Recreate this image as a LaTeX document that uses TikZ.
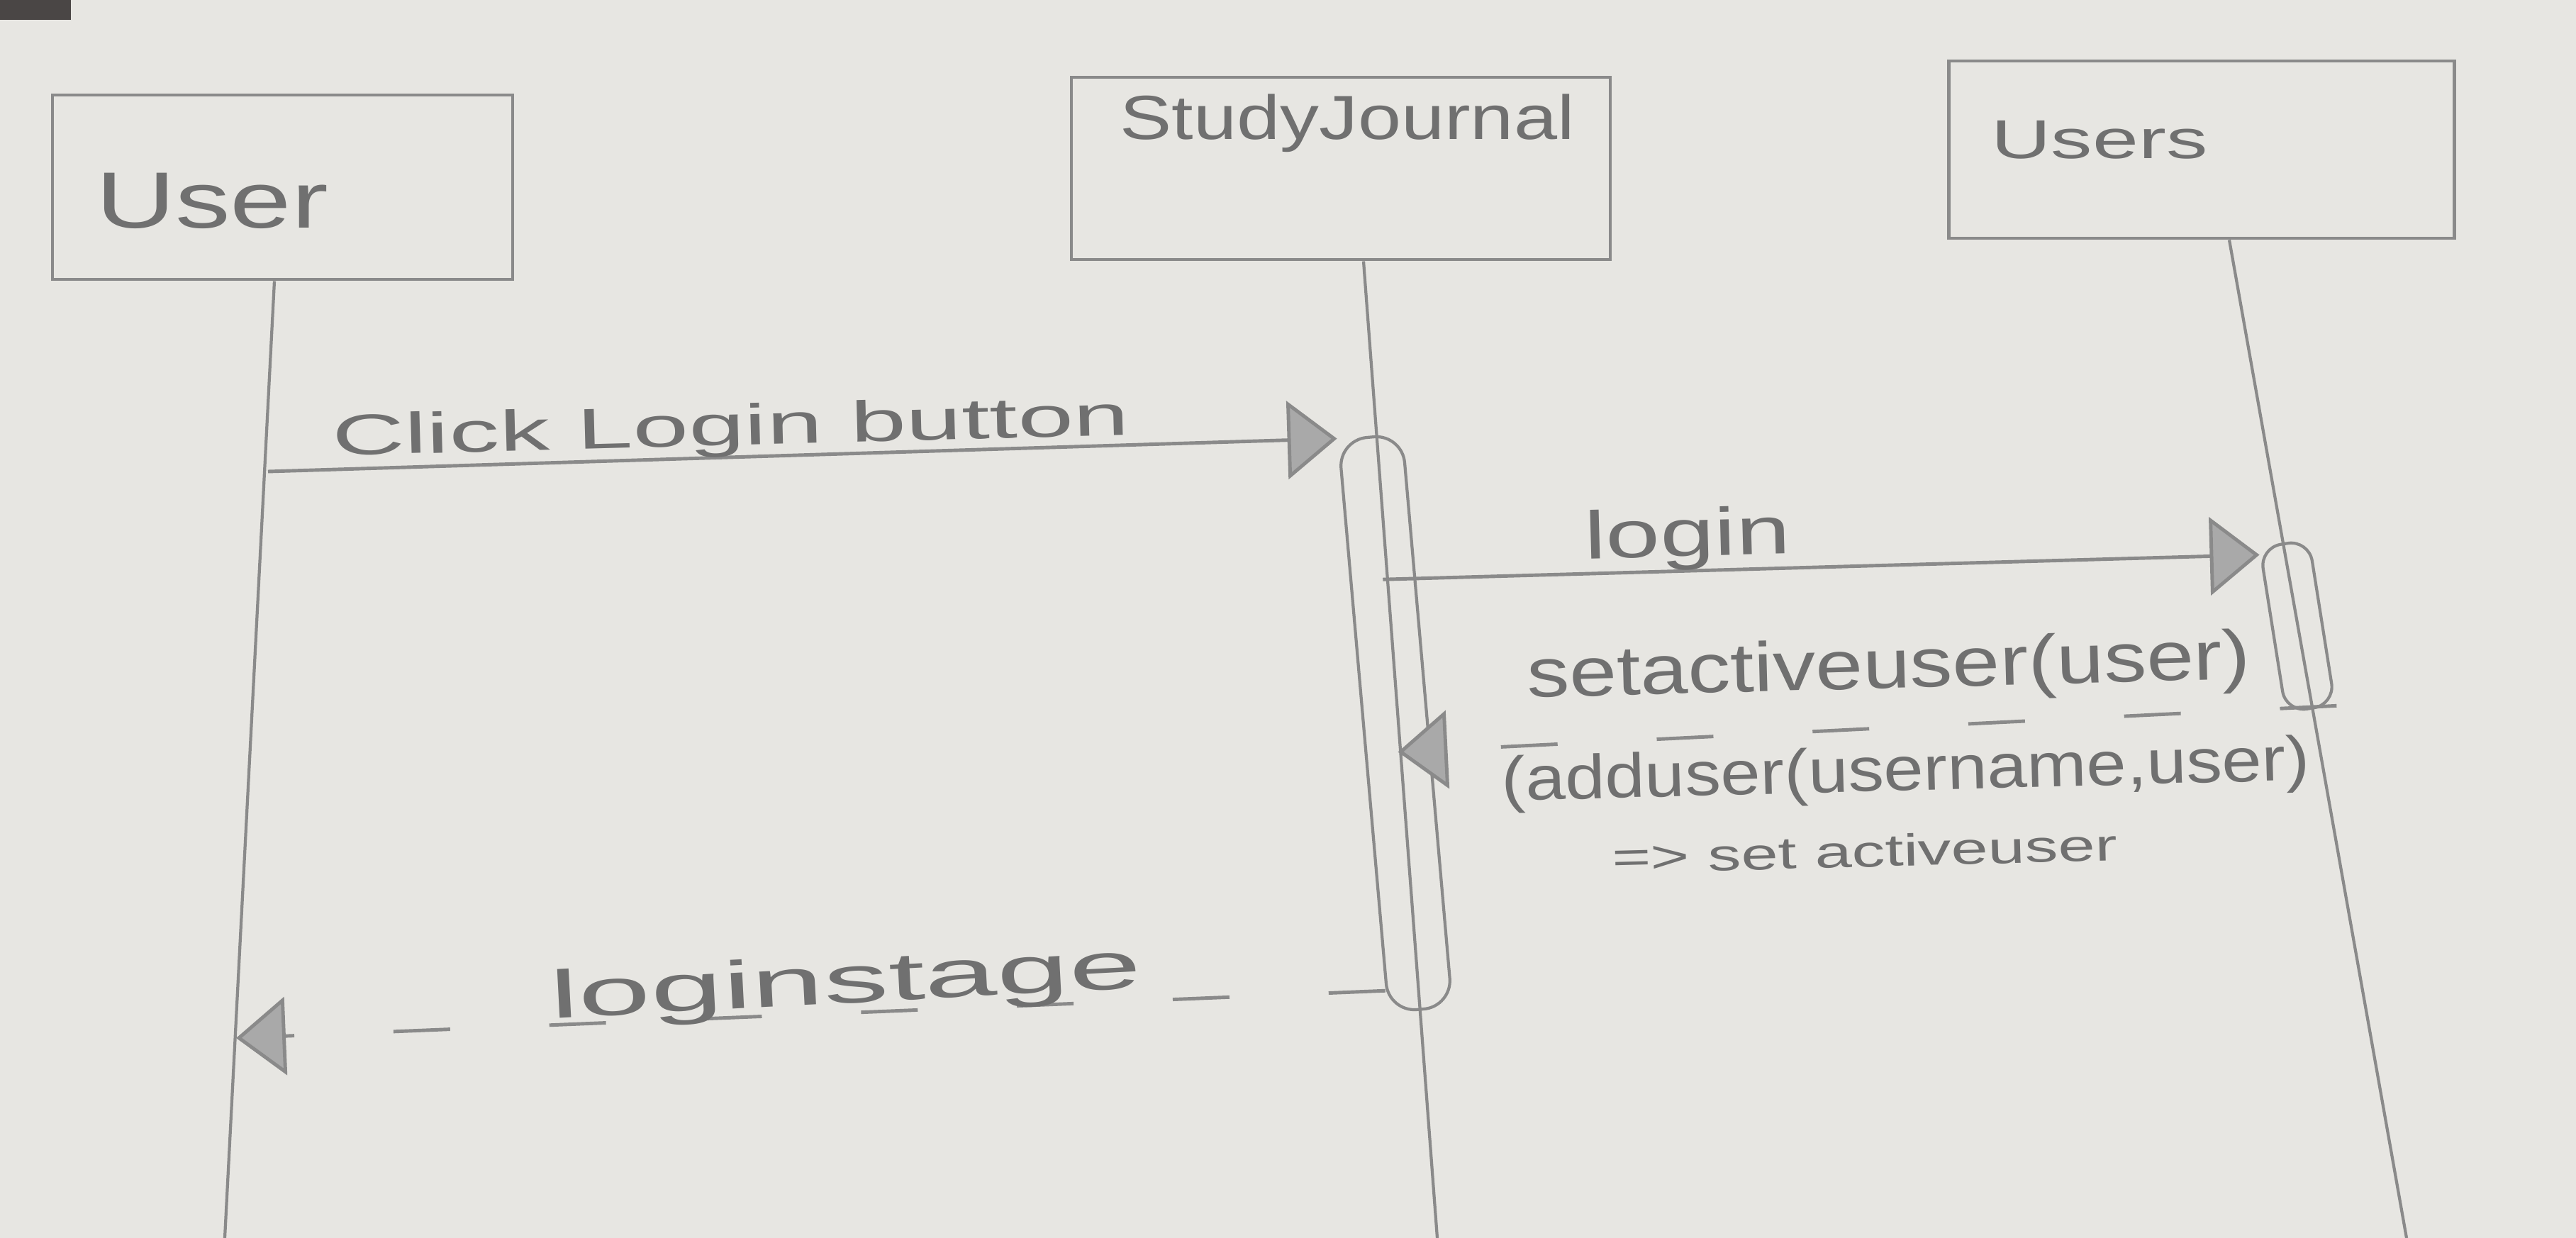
\documentclass[tikz,border=0pt]{standalone}
\usepackage{fontspec}
\setmainfont{Liberation Sans}
\usepackage{graphicx}
\usetikzlibrary{arrows.meta,calc}

\definecolor{paper}{HTML}{E7E6E2}
\definecolor{pencil}{HTML}{8A8A8A}
\definecolor{ink}{HTML}{707070}
\definecolor{shade}{HTML}{A9A9A9}
\definecolor{tape}{HTML}{4A4645}

% stretch text sideways, like the handwriting
\newcommand{\handw}[2]{\scalebox{#1}[1]{#2}}

\begin{document}
\begin{tikzpicture}[
    x=1cm,y=1cm,
    every node/.style={text=ink, inner sep=0pt},
    actor/.style={draw=pencil, line width=1.4pt},
    lifeline/.style={draw=pencil, line width=1.2pt},
    actbar/.style={draw=pencil, line width=1.2pt, rounded corners=4mm},
    call/.style={draw=pencil, line width=1.4pt,
      -{Triangle[length=7mm,width=11mm,fill=shade]}},
    reply/.style={call, dash pattern=on 8mm off 14mm}
]

% paper
\useasboundingbox (0,0) rectangle (36.33,-17.46);
\fill[paper] (0,0) rectangle (36.33,-17.46);
\fill[tape] (0,0) rectangle (1.0,-0.28);

% actors
\node[actor, minimum width=6.49cm, minimum height=2.6cm] (userbox) at (3.985,-2.64) {};
\node[font=\fontsize{32}{38}\selectfont] (usertxt) at (2.99,-2.83) {\handw{1.38}{User}};

\node[actor, minimum width=7.6cm, minimum height=2.57cm] (sjbox) at (18.91,-2.375) {};
\node[font=\fontsize{25}{30}\selectfont] (sjtxt) at (19.0,-1.74) {\handw{1.25}{StudyJournal}};

\node[actor, minimum width=7.13cm, minimum height=2.5cm] (usersbox) at (31.05,-2.11) {};
\node[font=\fontsize{22}{26}\selectfont] (userstxt) at (29.61,-1.97) {\handw{1.51}{Users}};

% lifelines
\coordinate (userend) at (3.17,-17.46);
\coordinate (sjend) at (20.27,-17.46);
\coordinate (usersend) at (33.94,-17.46);
\draw[lifeline] ([xshift=-1.15mm]userbox.south) -- (userend);
\draw[lifeline] ([xshift=3.2mm]sjbox.south) -- (sjend);
\draw[lifeline] ([xshift=3.9mm]usersbox.south) -- (usersend);

% activations
\node[actbar, minimum width=0.9cm, minimum height=8.1cm, rotate=5] (sjact) at (19.68,-10.2) {};
\node[actbar, minimum width=0.7cm, minimum height=2.35cm, rotate=9, rounded corners=3mm] (usersact) at (32.40,-8.83) {};

% messages
\coordinate (clickstart) at (3.78,-6.65);
\coordinate (stageend) at (3.33,-14.64);

\draw[call] (clickstart) -- (sjact.north west);
\node[font=\fontsize{23}{28}\selectfont, rotate=1.5] (clicktxt) at (10.31,-6.07) {\handw{1.75}{Click Login button}};

\draw[call] ($(sjact.north)!0.25!(sjact.south)$) -- ($(usersact.north west)!0.05!(usersact.south west)$);
\node[font=\fontsize{27}{32}\selectfont, rotate=1.5] (logintxt) at (23.8,-7.6) {\handw{1.45}{login}};

\draw[reply] (usersact.south east) -- ($(sjact.north)!0.55!(sjact.south)$);
\node[font=\fontsize{28}{33}\selectfont, rotate=1.5] (settxt) at (26.64,-9.45) {\handw{1.22}{setactiveuser(user)}};
\node[font=\fontsize{25}{30}\selectfont, rotate=1.5] (addtxt) at (26.88,-10.92) {\handw{1.15}{(adduser(username,user)}};
\node[font=\fontsize{18}{22}\selectfont, rotate=1.5] (thentxt) at (26.30,-12.0) {\handw{1.48}{=> set activeuser}};

\draw[reply] ($(sjact.north west)!0.96!(sjact.south west)$) -- (stageend);
\node[font=\fontsize{27}{32}\selectfont, rotate=3] (stagetxt) at (11.93,-13.90) {\handw{1.93}{loginstage}};

\end{tikzpicture}
\end{document}
